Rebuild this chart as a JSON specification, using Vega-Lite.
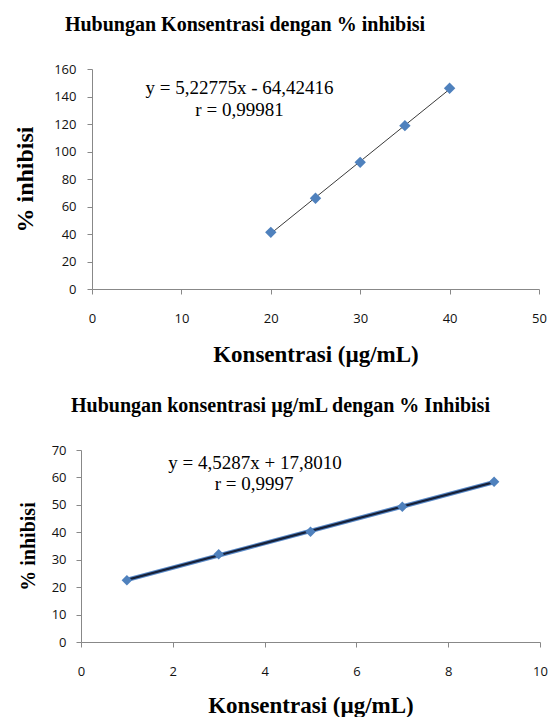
{
  "$schema": "https://vega.github.io/schema/vega-lite/v6.json",
  "background": "#ffffff",
  "padding": {"left": 13, "top": 15, "right": 5, "bottom": 5},
  "bounds": "flush",
  "spacing": 161,
  "datasets": {
    "c1": [
      {"konsentrasi": 20, "inhibisi": 41.2},
      {"konsentrasi": 25, "inhibisi": 66.0},
      {"konsentrasi": 30, "inhibisi": 92.1},
      {"konsentrasi": 35, "inhibisi": 118.8},
      {"konsentrasi": 40, "inhibisi": 146.0}
    ],
    "t1": [
      {"konsentrasi": 16.5, "inhibisi": 146.2, "label": "y = 5,22775x - 64,42416"},
      {"konsentrasi": 16.5, "inhibisi": 130.2, "label": "r = 0,99981"}
    ],
    "c2": [
      {"konsentrasi": 1, "inhibisi": 22.5},
      {"konsentrasi": 3, "inhibisi": 32.0},
      {"konsentrasi": 5, "inhibisi": 40.2},
      {"konsentrasi": 7, "inhibisi": 49.3},
      {"konsentrasi": 9, "inhibisi": 58.4}
    ],
    "t2": [
      {"konsentrasi": 3.79, "inhibisi": 65.4, "label": "y = 4,5287x + 17,8010"},
      {"konsentrasi": 3.77, "inhibisi": 57.7, "label": "r = 0,9997"}
    ]
  },
  "config": {
    "view": {"stroke": null},
    "axis": {
      "grid": false,
      "domainColor": "#888888",
      "tickColor": "#888888",
      "domainWidth": 1,
      "tickWidth": 1,
      "tickSize": 5,
      "labelFont": "Open Sans",
      "labelFontSize": 13,
      "labelColor": "#111111",
      "labelFlush": false,
      "labelOverlap": false,
      "titleFont": "Liberation Serif",
      "titleFontWeight": "bold",
      "titleColor": "#000000"
    },
    "axisX": {"labelBaseline": "middle", "labelPadding": 24, "titleFontSize": 23, "titlePadding": 18},
    "axisY": {"labelPadding": 10, "titlePadding": 16},
    "title": {"font": "Liberation Serif", "fontSize": 20, "fontWeight": "bold", "color": "#000000", "frame": "group", "anchor": "middle", "baseline": "alphabetic"}
  },
  "vconcat": [
    {
      "width": 458,
      "height": 220,
      "title": {"text": "Hubungan Konsentrasi dengan % inhibisi", "dx": -65, "offset": 28},
      "encoding": {
        "x": {
          "field": "konsentrasi",
          "type": "quantitative",
          "scale": {"domain": [0, 50], "range": [11, 458], "nice": false},
          "axis": {"values": [0, 10, 20, 30, 40, 50], "title": "Konsentrasi (µg/mL)"}
        },
        "y": {
          "field": "inhibisi",
          "type": "quantitative",
          "scale": {"domain": [0, 160], "nice": false},
          "axis": {"values": [0, 20, 40, 60, 80, 100, 120, 140, 160], "title": "% inhibisi", "offset": -11, "titleFontSize": 24, "labelPadding": 11}
        }
      },
      "layer": [
        {
          "data": {"name": "c1"},
          "transform": [{"regression": "inhibisi", "on": "konsentrasi"}],
          "mark": {"type": "line", "color": "#3a3a3a", "strokeWidth": 1}
        },
        {
          "data": {"name": "c1"},
          "mark": {"type": "point", "shape": "diamond", "filled": true, "size": 130, "color": "#4F81BD", "opacity": 1}
        },
        {
          "data": {"name": "t1"},
          "mark": {"type": "text", "font": "Liberation Serif", "fontSize": 19, "color": "#000000", "baseline": "middle", "align": "center"},
          "encoding": {"text": {"field": "label"}}
        }
      ]
    },
    {
      "width": 459,
      "height": 192,
      "title": {"text": "Hubungan konsentrasi µg/mL dengan % Inhibisi", "dx": -30, "offset": 28},
      "encoding": {
        "x": {
          "field": "konsentrasi",
          "type": "quantitative",
          "scale": {"domain": [0, 10], "nice": false},
          "axis": {"values": [0, 2, 4, 6, 8, 10], "title": "Konsentrasi (µg/mL)", "titlePadding": 16}
        },
        "y": {
          "field": "inhibisi",
          "type": "quantitative",
          "scale": {"domain": [0, 70], "nice": false},
          "axis": {"values": [0, 10, 20, 30, 40, 50, 60, 70], "title": "% inhibisi", "titleFontSize": 20, "titlePadding": 12.5}
        }
      },
      "layer": [
        {
          "data": {"name": "c2"},
          "transform": [{"regression": "inhibisi", "on": "konsentrasi"}],
          "mark": {"type": "line", "color": "#5B8BC9", "strokeWidth": 4.5}
        },
        {
          "data": {"name": "c2"},
          "transform": [{"regression": "inhibisi", "on": "konsentrasi"}],
          "mark": {"type": "line", "color": "#16213a", "strokeWidth": 2.2}
        },
        {
          "data": {"name": "c2"},
          "mark": {"type": "point", "shape": "diamond", "filled": true, "size": 110, "color": "#4F81BD", "opacity": 1}
        },
        {
          "data": {"name": "t2"},
          "mark": {"type": "text", "font": "Liberation Serif", "fontSize": 19, "color": "#000000", "baseline": "middle", "align": "center"},
          "encoding": {"text": {"field": "label"}}
        }
      ]
    }
  ]
}
